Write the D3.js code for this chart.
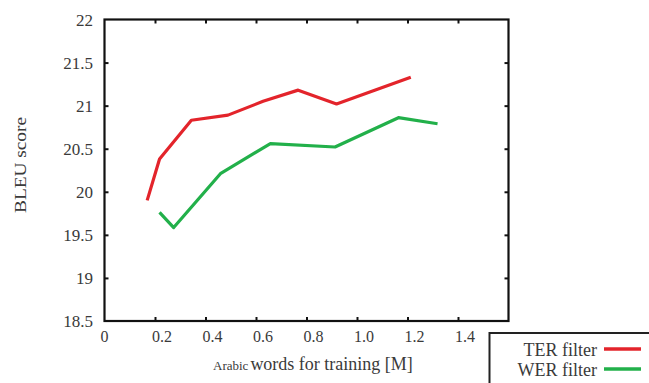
<!DOCTYPE html>
<html><head><meta charset="utf-8">
<script src="https://cdn.jsdelivr.net/npm/d3@7/dist/d3.min.js"></script>
<style>html,body{margin:0;padding:0;background:#fff;}svg{display:block;}</style>
</head><body>
<svg id="chart" width="649" height="383"></svg>
<script>
const terX = [0.169, 0.218, 0.344, 0.489, 0.628, 0.767, 0.919, 1.213];
const terY = [19.90, 20.38, 20.83, 20.89, 21.05, 21.18, 21.02, 21.33];
const werX = [0.218, 0.274, 0.459, 0.657, 0.913, 1.164, 1.319];
const werY = [19.76, 19.585, 20.21, 20.56, 20.52, 20.86, 20.79];
const xTicks = [0, 0.2, 0.4, 0.6, 0.8, 1.0, 1.2, 1.4];
const xTickLabels = ["0", "0.2", "0.4", "0.6", "0.8", "1.0", "1.2", "1.4"];
const yTicks = [18.5, 19, 19.5, 20, 20.5, 21, 21.5, 22];
const yTickLabels = ["18.5", "19", "19.5", "20", "20.5", "21", "21.5", "22"];
const seriesNames = ["TER filter", "WER filter"];
const seriesColors = ["#e3242b", "#22b04a"];

const svg = d3.select("#chart");
const L = 104.5, R = 508.5, T = 19.5, B = 321;
const x = d3.scaleLinear().domain([0, 1.6]).range([L, R]);
const y = d3.scaleLinear().domain([18.5, 22]).range([B, T]);
const font = "'Liberation Serif','Times New Roman',serif";
const textCol = "#3a3a3a";

// inner ticks (mirrored)
const tk = 4;
svg.append("g").attr("transform", `translate(0,${B})`)
  .call(d3.axisTop(x).tickValues(xTicks.slice(1)).tickSize(tk).tickFormat(""))
  .call(g => g.select(".domain").remove())
  .selectAll("line").attr("stroke", "#111").attr("stroke-width", 2);
svg.append("g").attr("transform", `translate(0,${T})`)
  .call(d3.axisBottom(x).tickValues(xTicks.slice(1)).tickSize(tk).tickFormat(""))
  .call(g => g.select(".domain").remove())
  .selectAll("line").attr("stroke", "#111").attr("stroke-width", 2);
svg.append("g").attr("transform", `translate(${L},0)`)
  .call(d3.axisRight(y).tickValues(yTicks.slice(1, -1)).tickSize(tk).tickFormat(""))
  .call(g => g.select(".domain").remove())
  .selectAll("line").attr("stroke", "#111").attr("stroke-width", 2);
svg.append("g").attr("transform", `translate(${R},0)`)
  .call(d3.axisLeft(y).tickValues(yTicks.slice(1, -1)).tickSize(tk).tickFormat(""))
  .call(g => g.select(".domain").remove())
  .selectAll("line").attr("stroke", "#111").attr("stroke-width", 2);

// frame
svg.append("rect").attr("x", L).attr("y", T).attr("width", R - L).attr("height", B - T)
  .attr("fill", "none").attr("stroke", "#111").attr("stroke-width", 2.2);

// tick labels
svg.append("g").selectAll("text").data(xTicks).join("text")
  .attr("x", (d, i) => x(d) + (i === 0 ? 0 : 7)).attr("y", 342)
  .attr("text-anchor", "middle").attr("font-family", font).attr("font-size", 16)
  .attr("fill", textCol).text((d, i) => xTickLabels[i]);
svg.append("g").selectAll("text").data(yTicks).join("text")
  .attr("x", 93).attr("y", d => y(d) + 6)
  .attr("text-anchor", "end").attr("font-family", font).attr("font-size", 17)
  .attr("fill", textCol).text((d, i) => yTickLabels[i]);

// axis titles
svg.append("text").attr("transform", "translate(26,165) rotate(-90)")
  .attr("text-anchor", "middle").attr("font-family", font).attr("font-size", 17)
  .attr("textLength", 96).attr("lengthAdjust", "spacingAndGlyphs")
  .attr("fill", textCol).text("BLEU score");
const xt = svg.append("text").attr("x", 213).attr("y", 370)
  .attr("font-family", font).attr("fill", textCol);
xt.append("tspan").attr("font-size", 13).text("Arabic");
xt.append("tspan").attr("font-size", 18).attr("dx", 2).text("words for training [M]");

// lines
const line = d3.line().x(d => x(d[0])).y(d => y(d[1]));
const series = [d3.zip(terX, terY), d3.zip(werX, werY)];
svg.append("g").selectAll("path").data(series).join("path")
  .attr("d", line).attr("fill", "none")
  .attr("stroke", (d, i) => seriesColors[i]).attr("stroke-width", 3.2)
  .attr("stroke-linejoin", "round");

// legend
svg.append("rect").attr("x", 489.5).attr("y", 333).attr("width", 200).attr("height", 100)
  .attr("fill", "#fff").attr("stroke", "#222").attr("stroke-width", 2);
const lg = svg.append("g").selectAll("g").data(seriesNames).join("g")
  .attr("transform", (d, i) => `translate(0,${i * 20})`);
lg.append("text").attr("x", 597).attr("y", 356).attr("text-anchor", "end")
  .attr("font-family", font).attr("font-size", 18).attr("fill", textCol).text(d => d);
lg.append("line").attr("x1", 604).attr("x2", 641).attr("y1", 349).attr("y2", 349)
  .attr("stroke", (d, i) => seriesColors[i]).attr("stroke-width", 3.5);
</script>
</body></html>
